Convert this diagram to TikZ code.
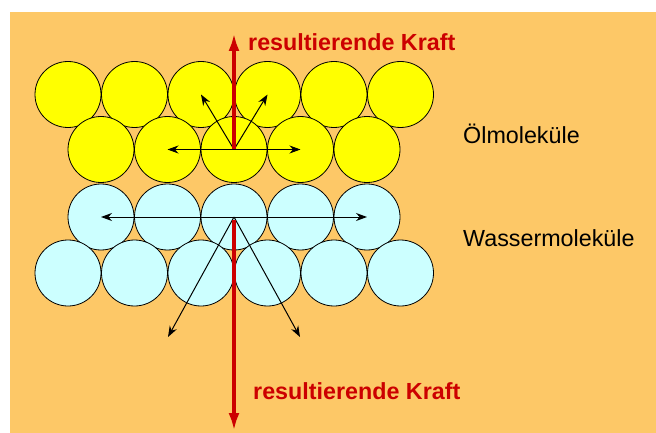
\documentclass[tikz,border=0pt]{standalone}
\usepackage{fontspec}
\setmainfont{Liberation Sans}
\usetikzlibrary{arrows.meta}
\definecolor{bgorange}{RGB}{253,200,103}
\definecolor{oilyellow}{RGB}{255,255,0}
\definecolor{waterblue}{RGB}{204,255,255}
\definecolor{forcered}{RGB}{204,0,0}
\tikzset{
  mol/.style={circle, draw=black, line width=0.8pt, minimum size=66pt, inner sep=0pt},
  oil/.style={mol, fill=oilyellow},
  water/.style={mol, fill=waterblue},
  force/.style={draw=black, line width=1pt, -{Stealth[length=11pt,width=8pt]}},
  resultant/.style={draw=forcered, line width=4pt, -{Latex[length=18pt,width=11pt]}},
  redlabel/.style={text=forcered, font=\bfseries\fontsize{23.3}{28}\selectfont, anchor=base west, inner sep=0pt},
  blacklabel/.style={text=black, font=\fontsize{23.3}{28}\selectfont, anchor=base west, inner sep=0pt}
}
\begin{document}
\begin{tikzpicture}[x=1pt,y=-1pt]
\useasboundingbox (0,0) rectangle (656,433);
\fill[bgorange] (10,12) rectangle (656,433);
% oil molecules
\foreach \i in {1,...,6} {
  \node[oil] (o1-\i) at ({68+66.5*(\i-1)},94.5) {};
}
\foreach \i in {1,...,5} {
  \node[oil] (o2-\i) at ({101+66.5*(\i-1)},149.5) {};
}
% water molecules
\foreach \i in {1,...,5} {
  \node[water] (w1-\i) at ({101+66.5*(\i-1)},217) {};
}
\foreach \i in {1,...,6} {
  \node[water] (w2-\i) at ({68+66.5*(\i-1)},273) {};
}
% free ends
\coordinate (topTip) at (234,33);
\coordinate (botTip) at (234,431);
\coordinate (dl) at (168,337);
\coordinate (dr) at (300,337);
% oil forces
\draw[force] (o2-3.center) -- (o2-2.center);
\draw[force] (o2-3.center) -- (o2-4.center);
\draw[force] (o2-3.center) -- (o1-3.center);
\draw[force] (o2-3.center) -- (o1-4.center);
% water forces
\draw[force] (w1-3.center) -- (w1-1.center);
\draw[force] (w1-3.center) -- (w1-5.center);
\draw[force] (w1-3.center) -- (dl);
\draw[force] (w1-3.center) -- (dr);
% resultant forces
\draw[resultant] (o2-3.center) -- (topTip);
\draw[resultant] ([yshift=-3pt]w1-3.center) -- (botTip);
% labels
\node[redlabel] (rtop) at (248,51) {resultierende Kraft};
\node[redlabel] (rbot) at (253,399) {resultierende Kraft};
\node[blacklabel] (oillab) at (463,143) {Ölmoleküle};
\node[blacklabel] (waterlab) at (463,246) {Wassermoleküle};
\end{tikzpicture}
\end{document}
